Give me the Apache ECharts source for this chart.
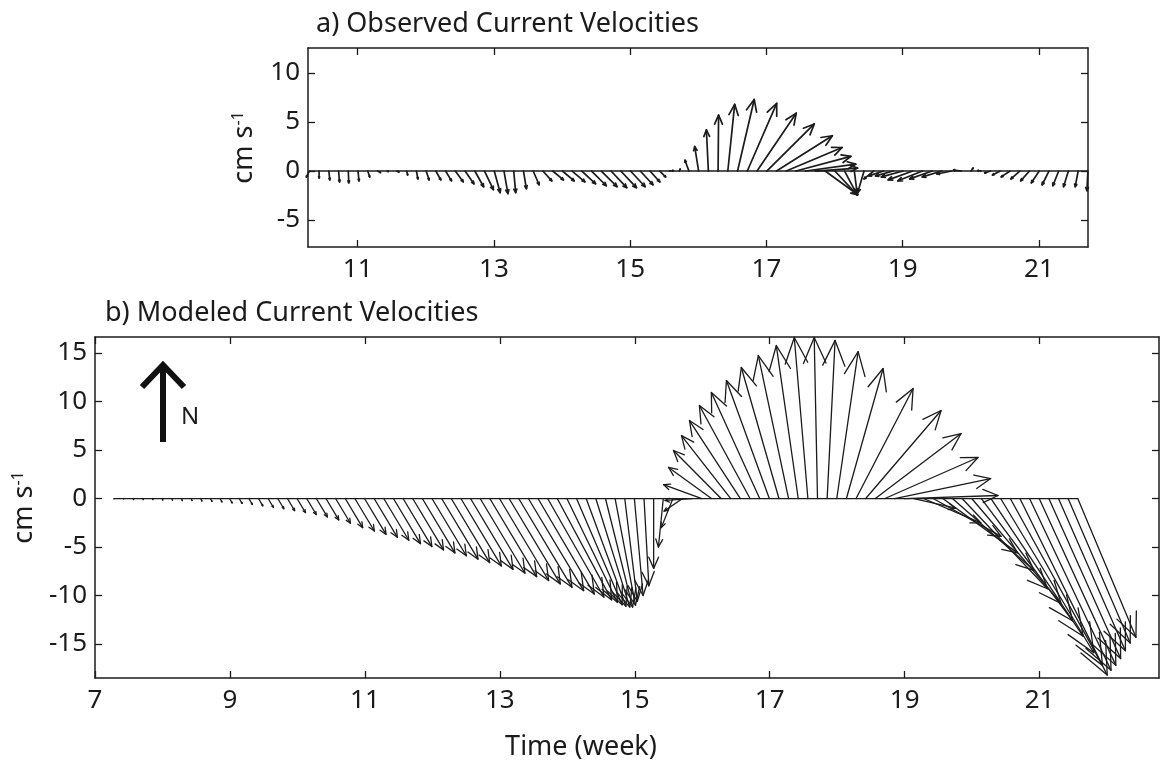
<!DOCTYPE html>
<html>
<head>
<meta charset="utf-8">
<title>Current Velocities</title>
<script src="https://cdn.jsdelivr.net/npm/echarts@6/dist/echarts.min.js"></script>
<style>
  html, body { margin: 0; padding: 0; background: #fff; }
  #chart { width: 1162px; height: 764px; }
</style>
</head>
<body>
<div id="chart"></div>
<script>
// Time sampling (weeks): one stick per day
const obsStart = 10.29;
const modStart = 7.28;
const dayStep = 1 / 7;

// a) Observed current velocity components (cm/s): east (U) and north (V)
const obsU = [
  -0.3, 0.0, 0.1, 0.1, 0.05, 0.1, 0.2, 0.3, 0.1, 0.2,
  0.1, 0.15, 0.3, 0.5, 0.6, 0.8, 0.9, 0.9, 0.9, 0.6,
  0.4, 0.2, 0.3, 0.6, 0.9, 1.1, 1.2, 1.3, 1.4, 1.5,
  1.6, 1.6, 1.6, 1.5, 1.3, 1.0, 0.6, 0.4, 0.1, -0.4,
  -0.4, -0.2, 0.05, 0.7, 1.7, 3.0, 4.0, 4.85, 5.7, 5.7,
  5.6, 5.1, 4.3, 3.3, 2.3, 1.3, 0.3, -0.65, -1.0, -1.5,
  -1.8, -2.2, -2.5, -2.5, -2.3, -2.0, -1.5, -0.8, 0.2, -0.3,
  -0.6, -0.8, -0.9, -0.9, -0.9, -0.8, -0.7, -0.6, -0.5, -0.3,
  -0.1
];
const obsV = [
  -0.6, -0.7, -0.9, -1.1, -1.2, -1.0, -0.6, -0.15, -0.05, -0.1,
  -0.4, -0.8, -0.9, -0.9, -1.0, -1.1, -1.3, -1.6, -1.9, -2.2,
  -2.3, -2.2, -1.8, -1.4, -1.0, -0.9, -1.0, -1.1, -1.3, -1.5,
  -1.6, -1.7, -1.7, -1.6, -1.4, -1.1, -0.6, 0.05, 0.2, 1.1,
  2.5, 4.2, 5.7, 6.8, 7.3, 6.9, 5.9, 4.8, 3.6, 2.4,
  1.5, 0.7, 0.3, -2.4, -2.45, -2.45, -2.4, -2.2, -0.8, -0.5,
  -0.5, -0.6, -0.9, -1.0, -0.8, -0.6, -0.3, 0.1, 0.3, 0.05,
  -0.2, -0.4, -0.6, -0.8, -1.0, -1.2, -1.4, -1.5, -1.6, -1.6,
  -2.0
];

// b) Modeled current velocity components (cm/s)
const modU = [
  0.02, 0.02, 0.04, 0.04, 0.05, 0.07, 0.08, 0.1, 0.11, 0.13,
  0.18, 0.21, 0.27, 0.3, 0.36, 0.45, 0.54, 0.63, 0.75, 0.87,
  0.99, 1.14, 1.32, 1.53, 1.8, 2.01, 2.22, 2.4, 2.58, 2.79,
  2.97, 3.18, 3.36, 3.54, 3.75, 3.96, 4.17, 4.38, 4.62, 4.83,
  5.07, 5.28, 5.49, 5.7, 5.8, 5.8, 5.6, 5.2, 4.7, 4.1,
  3.5, 2.8, 2.1, 1.3, 0.9, 0.5, 0.0, -0.5, -1.2, -1.9,
  -2.8, -3.95, -4.42, -4.91, -5.08, -5.25, -5.22, -4.98, -4.42, -3.88,
  -3.12, -2.26, -1.4, -0.34, 0.82, 2.2, 3.78, 5.88, 7.77, 8.84,
  9.59, 9.9, 9.66, 4.3, 5.9, 7.0, 7.7, 8.4, 8.8, 9.2,
  9.4, 9.5, 9.6, 9.5, 9.0, 8.4, 7.9, 7.4, 6.9, 6.4,
  6.0
];
const modV = [
  -0.05, -0.05, -0.1, -0.1, -0.1, -0.15, -0.15, -0.2, -0.2, -0.25,
  -0.3, -0.35, -0.45, -0.5, -0.6, -0.75, -0.9, -1.05, -1.25, -1.45,
  -1.65, -1.9, -2.2, -2.55, -3.0, -3.35, -3.7, -4.0, -4.3, -4.65,
  -4.95, -5.3, -5.6, -5.9, -6.25, -6.6, -6.95, -7.3, -7.7, -8.05,
  -8.45, -8.8, -9.15, -9.5, -9.85, -10.15, -10.45, -10.7, -10.95, -11.1,
  -11.2, -11.2, -11.0, -10.6, -10.0, -9.0, -7.2, -5.0, -3.0, -1.3,
  -0.2, 1.44, 3.2, 4.95, 6.49, 8.04, 9.59, 10.93, 12.16, 13.51,
  14.74, 15.77, 16.6, 16.6, 16.3, 15.15, 13.4, 11.34, 9.07, 6.7,
  4.23, 2.06, 0.31, -1.0, -2.5, -3.9, -5.6, -7.4, -9.3, -10.8,
  -12.6, -14.2, -15.9, -17.2, -18.2, -17.7, -17.2, -16.5, -15.7, -14.9,
  -14.3
];

// Axis tick values
const obsWeekTicks = [11, 13, 15, 17, 19, 21];
const obsSpeedTicks = [-5, 0, 5, 10];
const modWeekTicks = [7, 9, 11, 13, 15, 17, 19, 21];
const modSpeedTicks = [-15, -10, -5, 0, 5, 10, 15];

const FONT = "'Noto Sans', 'DejaVu Sans', sans-serif";
const INK = '#1b1b1b';

function sticks(start, us, vs) {
  return us.map((u, k) => [start + k * dayStep, u, vs[k]]);
}

// Each stick starts on the zero line at its time and points along (U, V),
// with U drawn at the same pixel scale as the V axis.
function stickRenderer(width) {
  return function (params, api) {
    const t = api.value(0), u = api.value(1), v = api.value(2);
    const base = api.coord([t, 0]);
    const tipY = api.coord([t, v])[1];
    const pxPerUnit = api.size([0, 1])[1];
    const tip = [base[0] + u * pxPerUnit, tipY];
    const dx = tip[0] - base[0], dy = tip[1] - base[1];
    const len = Math.hypot(dx, dy);
    const style = { stroke: INK, lineWidth: width, fill: null, lineCap: 'round', lineJoin: 'round' };
    const children = [{
      type: 'line',
      shape: { x1: base[0], y1: base[1], x2: tip[0], y2: tip[1] },
      style: style
    }];
    if (len > 0.8) {
      const ex = dx / len, ey = dy / len;
      const h = len * 0.16, w = len * 0.07;
      const bx = tip[0] - ex * h, by = tip[1] - ey * h;
      children.push({
        type: 'polyline',
        shape: { points: [[bx - ey * w, by + ex * w], tip, [bx + ey * w, by - ex * w]] },
        style: style
      });
    }
    return { type: 'group', children: children };
  };
}

function xAxisPair(grid, min, max, ticks) {
  const common = {
    type: 'value', gridIndex: grid, min: min, max: max,
    splitLine: { show: false },
    axisLine: { show: true, onZero: false, lineStyle: { color: INK, width: 1.5 } },
    axisTick: { show: true, inside: true, length: 7, customValues: ticks, lineStyle: { color: INK, width: 1.3 } }
  };
  return [
    Object.assign({}, common, {
      position: 'bottom',
      axisLabel: { show: true, customValues: ticks, color: INK, fontSize: 26, fontFamily: FONT, margin: 10 }
    }),
    Object.assign({}, common, { position: 'top', axisLabel: { show: false } })
  ];
}

function yAxisPair(grid, min, max, ticks, gap) {
  const common = {
    type: 'value', gridIndex: grid, min: min, max: max,
    splitLine: { show: false },
    axisLine: { show: true, onZero: false, lineStyle: { color: INK, width: 1.5 } },
    axisTick: { show: true, inside: true, length: 7, customValues: ticks, lineStyle: { color: INK, width: 1.3 } }
  };
  return [
    Object.assign({}, common, {
      position: 'left',
      axisLabel: { show: true, customValues: ticks, color: INK, fontSize: 26, fontFamily: FONT, margin: 8 },
      name: 'cm s{sup|-1}',
      nameLocation: 'middle',
      nameRotate: 90,
      nameGap: gap,
      nameTextStyle: {
        color: INK, fontSize: 27, fontFamily: FONT,
        rich: { sup: { fontSize: 16, fontFamily: FONT, color: INK, verticalAlign: 'top', padding: [0, 0, 12, 0] } }
      }
    }),
    Object.assign({}, common, { position: 'right', axisLabel: { show: false } })
  ];
}

const chart = echarts.init(document.getElementById('chart'), null, { renderer: 'canvas' });

const obsData = sticks(obsStart, obsU, obsV);
const modData = sticks(modStart, modU, modV);

chart.setOption({
  backgroundColor: '#ffffff',
  animation: false,
  grid: [
    { left: 308, top: 48, width: 780, height: 199 },
    { left: 95, top: 337, width: 1064, height: 341 }
  ],
  xAxis: [].concat(
    xAxisPair(0, 10.27, 21.72, obsWeekTicks),
    xAxisPair(1, 7, 22.77, modWeekTicks)
  ),
  yAxis: [].concat(
    yAxisPair(0, -7.75, 12.55, obsSpeedTicks, 50),
    yAxisPair(1, -18.5, 16.65, modSpeedTicks, 52)
  ),
  title: [
    { text: 'a) Observed Current Velocities', left: 311, top: 6,
      textStyle: { fontSize: 27, fontWeight: 'normal', color: INK, fontFamily: FONT } },
    { text: 'b) Modeled Current Velocities', left: 100, top: 295,
      textStyle: { fontSize: 27, fontWeight: 'normal', color: INK, fontFamily: FONT } },
    { text: 'Time (week)', left: 'center', top: 729,
      textStyle: { fontSize: 27, fontWeight: 'normal', color: INK, fontFamily: FONT } }
  ],
  graphic: [
    { type: 'polyline', shape: { points: [[163, 442], [163, 366]] },
      style: { stroke: '#111', lineWidth: 6, fill: null } },
    { type: 'polyline', shape: { points: [[142, 387], [163, 365], [184, 387]] },
      style: { stroke: '#111', lineWidth: 6, fill: null, lineJoin: 'miter' } },
    { type: 'text', left: 181, top: 405,
      style: { text: 'N', fontSize: 24, fontFamily: FONT, fill: INK } }
  ],
  series: [
    { type: 'line', xAxisIndex: 0, yAxisIndex: 0, symbol: 'none', silent: true,
      data: [[obsData[0][0], 0], [obsData[obsData.length - 1][0], 0]],
      lineStyle: { color: INK, width: 1.4 } },
    { type: 'custom', xAxisIndex: 0, yAxisIndex: 0, silent: true,
      renderItem: stickRenderer(1.7), encode: { x: 0, y: 2 }, data: obsData },
    { type: 'line', xAxisIndex: 2, yAxisIndex: 2, symbol: 'none', silent: true,
      data: [[modData[0][0], 0], [modData[modData.length - 1][0], 0]],
      lineStyle: { color: INK, width: 1.3 } },
    { type: 'custom', xAxisIndex: 2, yAxisIndex: 2, silent: true,
      renderItem: stickRenderer(1.3), encode: { x: 0, y: 2 }, data: modData }
  ]
});
</script>
</body>
</html>
